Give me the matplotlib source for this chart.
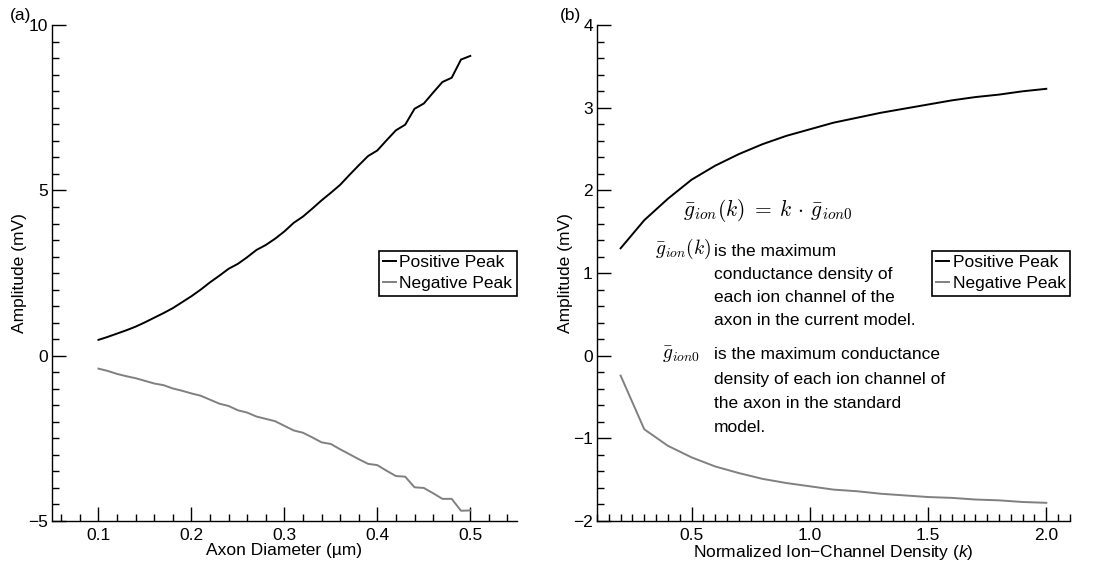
import numpy as np
import matplotlib
matplotlib.use("Agg")
import matplotlib.pyplot as plt
from matplotlib.ticker import MultipleLocator

plt.rcParams['font.family'] = ['Liberation Sans', 'DejaVu Sans']
plt.rcParams['mathtext.fontset'] = 'custom'
plt.rcParams['mathtext.rm'] = 'Liberation Sans'
plt.rcParams['mathtext.it'] = 'Liberation Sans:italic'
plt.rcParams['font.size'] = 12.5

# (a) peak amplitude vs axon diameter
diameter = [0.10, 0.11, 0.12, 0.13, 0.14, 0.15, 0.16, 0.17, 0.18, 0.19,
            0.20, 0.21, 0.22, 0.23, 0.24, 0.25, 0.26, 0.27, 0.28, 0.29,
            0.30, 0.31, 0.32, 0.33, 0.34, 0.35, 0.36, 0.37, 0.38, 0.39,
            0.40, 0.41, 0.42, 0.43, 0.44, 0.45, 0.46, 0.47, 0.48, 0.49, 0.50]
pos_a = [0.48, 0.57, 0.67, 0.77, 0.88, 1.01, 1.15, 1.29, 1.44, 1.62,
         1.80, 2.00, 2.22, 2.42, 2.63, 2.78, 2.98, 3.20, 3.35, 3.54,
         3.76, 4.02, 4.21, 4.45, 4.70, 4.93, 5.17, 5.47, 5.76, 6.04,
         6.21, 6.52, 6.82, 6.99, 7.47, 7.63, 7.96, 8.28, 8.41, 8.96, 9.07]
neg_a = [-0.39, -0.46, -0.55, -0.62, -0.68, -0.76, -0.84, -0.89, -0.99, -1.06,
         -1.14, -1.21, -1.33, -1.45, -1.52, -1.65, -1.72, -1.84, -1.91, -1.98,
         -2.12, -2.26, -2.33, -2.47, -2.62, -2.67, -2.83, -2.98, -3.13, -3.27,
         -3.31, -3.48, -3.64, -3.66, -3.98, -4.00, -4.16, -4.33, -4.33, -4.69, -4.68]

# (b) peak amplitude vs normalized ion-channel density
density = [0.2, 0.3, 0.4, 0.5, 0.6, 0.7, 0.8, 0.9, 1.0, 1.1,
           1.2, 1.3, 1.4, 1.5, 1.6, 1.7, 1.8, 1.9, 2.0]
pos_b = [1.30, 1.64, 1.90, 2.13, 2.30, 2.44, 2.56, 2.66, 2.74, 2.82,
         2.88, 2.94, 2.99, 3.04, 3.09, 3.13, 3.16, 3.20, 3.23]
neg_b = [-0.24, -0.89, -1.09, -1.23, -1.34, -1.42, -1.49, -1.54, -1.58, -1.62,
         -1.64, -1.67, -1.69, -1.71, -1.72, -1.74, -1.75, -1.77, -1.78]

fig = plt.figure(figsize=(11.2, 5.66), dpi=100)
ax1 = fig.add_axes([0.0464, 0.0795, 0.415, 0.876])
ax2 = fig.add_axes([0.533, 0.0795, 0.4223, 0.876])


def style(ax):
    for s in ['top', 'right']:
        ax.spines[s].set_visible(False)
    for s in ['left', 'bottom']:
        ax.spines[s].set_linewidth(1.0)
    ax.tick_params(which='both', direction='in', width=1.0)
    ax.tick_params(which='major', length=10, pad=3)
    ax.tick_params(which='minor', length=5)
    ax.tick_params(axis='x', pad=5)


def legend(ax):
    lg = ax.legend(loc='center right', bbox_to_anchor=(1.0, 0.5),
                   fancybox=False, framealpha=1, edgecolor='black',
                   handlelength=0.75, handletextpad=0.2, borderpad=0.25,
                   labelspacing=0.35, borderaxespad=0.0)
    lg.get_frame().set_linewidth(1.2)


ax1.plot(diameter, pos_a, color='black', lw=1.4, label='Positive Peak')
ax1.plot(diameter, neg_a, color='#808080', lw=1.4, label='Negative Peak')
ax1.set_xlim(0.05, 0.55)
ax1.set_ylim(-5, 10)
ax1.xaxis.set_major_locator(MultipleLocator(0.1))
ax1.xaxis.set_minor_locator(MultipleLocator(0.02))
ax1.yaxis.set_major_locator(MultipleLocator(5))
ax1.yaxis.set_minor_locator(MultipleLocator(0.5))
ax1.set_xlabel('Axon Diameter (µm)', labelpad=0)
ax1.set_ylabel('Amplitude (mV)', labelpad=1)
style(ax1)
legend(ax1)

ax2.plot(density, pos_b, color='black', lw=1.4, label='Positive Peak')
ax2.plot(density, neg_b, color='#808080', lw=1.4, label='Negative Peak')
ax2.set_xlim(0.1, 2.1)
ax2.set_ylim(-2, 4)
ax2.xaxis.set_major_locator(MultipleLocator(0.5))
ax2.xaxis.set_minor_locator(MultipleLocator(0.05))
ax2.yaxis.set_major_locator(MultipleLocator(1))
ax2.yaxis.set_minor_locator(MultipleLocator(0.2))
ax2.set_xlabel('Normalized Ion\u2212Channel Density ($k$)', labelpad=0)
ax2.set_ylabel('Amplitude (mV)', labelpad=0)
style(ax2)
legend(ax2)

# explanatory notes
ax2.text(0.464, 1.76, r'$\bar{g}_{ion}(k) \;=\; k \,\cdot\, \bar{g}_{ion0}$',
         ha='left', va='center', fontsize=15.5, math_fontfamily='cm')
ax2.text(0.346, 1.29, r'$\bar{g}_{ion}(k)$', ha='left', va='center',
         fontsize=14, math_fontfamily='cm')
ax2.text(0.596, 1.35, 'is the maximum\nconductance density of\n'
         'each ion channel of the\naxon in the current model.',
         ha='left', va='top', linespacing=1.65)
ax2.text(0.375, 0.01, r'$\bar{g}_{ion0}$', ha='left', va='center',
         fontsize=14, math_fontfamily='cm')
ax2.text(0.596, 0.10, 'is the maximum conductance\ndensity of each ion channel of\n'
         'the axon in the standard\nmodel.',
         ha='left', va='top', linespacing=1.77)

fig.text(0.009, 0.985, '(a)', ha='left', va='top')
fig.text(0.5, 0.985, '(b)', ha='left', va='top')

fig.savefig('out.png', dpi=100)
